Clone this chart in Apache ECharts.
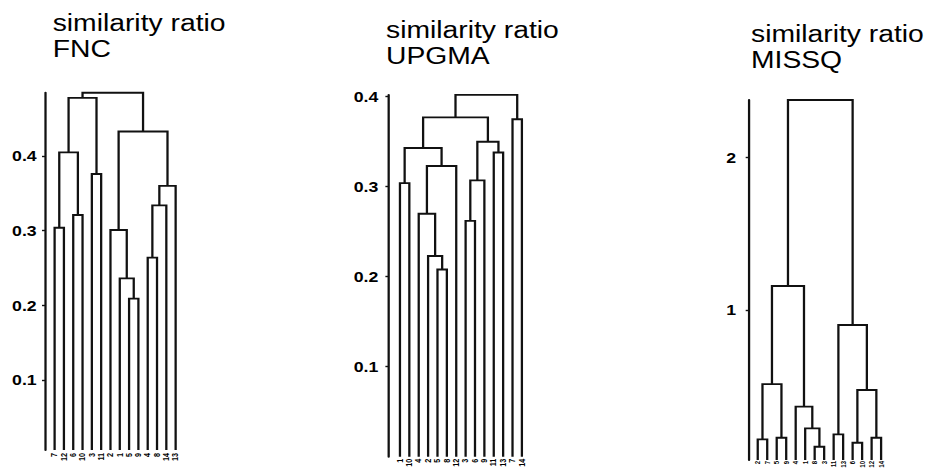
<!DOCTYPE html>
<html>
<head>
<meta charset="utf-8">
<script src="https://cdn.jsdelivr.net/npm/echarts@6/dist/echarts.min.js"></script>
<style>
  html, body { margin: 0; padding: 0; background: #fff; overflow: hidden; }
  #chart { width: 757px; height: 468px; transform: scaleX(1.23); transform-origin: 0 0; }
</style>
</head>
<body>
<div id="chart"></div>
<script>
// Horizontal stretch of the figure (the whole drawing is widened by this factor)
const S = 1.23;

// Leaf labels, left to right, for each dendrogram
const fncLabels   = ['7', '12', '6', '10', '3', '11', '2', '1', '5', '9', '4', '8', '14', '13'];
const upgmaLabels = ['1', '10', '4', '2', '5', '8', '12', '3', '6', '9', '11', '13', '7', '14'];
const missqLabels = ['2', '7', '5', '9', '4', '1', '8', '3', '11', '13', '6', '10', '12', '14'];

// Merges: [left, right, height]; 0..13 are leaves, 14 + k is the k-th merge
const fncMerges = [
  [0, 1, 0.304], [2, 3, 0.321], [14, 15, 0.405], [4, 5, 0.376], [16, 17, 0.478],
  [8, 9, 0.209], [7, 19, 0.236], [6, 20, 0.301], [10, 11, 0.264], [22, 12, 0.334],
  [23, 13, 0.360], [21, 24, 0.433], [18, 25, 0.485]
];
const upgmaMerges = [
  [0, 1, 0.304], [4, 5, 0.208], [3, 15, 0.223], [2, 16, 0.270], [17, 6, 0.323],
  [14, 18, 0.343], [7, 8, 0.262], [20, 9, 0.307], [10, 11, 0.338], [21, 22, 0.350],
  [19, 23, 0.377], [12, 13, 0.375], [24, 25, 0.402]
];
const missqMerges = [
  [0, 1, 0.153], [2, 3, 0.164], [14, 15, 0.515], [6, 7, 0.105], [5, 17, 0.225],
  [4, 18, 0.367], [16, 19, 1.157], [8, 9, 0.186], [10, 11, 0.131], [12, 13, 0.164],
  [22, 23, 0.476], [21, 24, 0.902], [20, 25, 2.375]
];

// Y tick values
const fncTicks   = [0.1, 0.2, 0.3, 0.4];
const upgmaTicks = [0.1, 0.2, 0.3, 0.4];
const missqTicks = [1, 2];

const panels = [
  { name: 'FNC',   labels: fncLabels,   merges: fncMerges,   ticks: fncTicks,
    yMin: 0.006, yMax: 0.485, xMin: 0,     left: 45.3,  top: 92.7, height: 357.3, step: 9.31,
    labelMargin: 7,    leafMargin: 3, leafFont: 7.2, titleX: 52.7, titleY: 9.5 },
  { name: 'UPGMA', labels: upgmaLabels, merges: upgmaMerges, ticks: upgmaTicks,
    yMin: 0,     yMax: 0.402, xMin: -0.2,  left: 388.7, top: 94.9, height: 361.8, step: 9.38,
    labelMargin: 8.5,  leafMargin: 2, leafFont: 7.2, titleX: 386,  titleY: 17 },
  { name: 'MISSQ', labels: missqLabels, merges: missqMerges, ticks: missqTicks,
    yMin: 0.018, yMax: 2.375, xMin: 0.08,  left: 749,   top: 100,  height: 360,   step: 9.49,
    labelMargin: 10.5, leafMargin: 1, leafFont: 6,   titleX: 751,  titleY: 20.5 }
];

// Turn a merge list into U-shaped links: [xLeft, hLeft, xRight, hRight, hJoin]
function buildLinks(labels, merges, base) {
  const n = labels.length;
  const pos = [], ht = [];
  for (let i = 0; i < n; i++) { pos[i] = i + 1; ht[i] = base; }
  return merges.map(([a, b, h], k) => {
    pos[n + k] = (pos[a] + pos[b]) / 2;
    ht[n + k] = h;
    return [pos[a], ht[a], pos[b], ht[b], h];
  });
}

const INK = '#111';
const FONT = '"Liberation Sans", Arial, sans-serif';
const XMAX = 14.5;
const LINE_W = 1.85;

const option = {
  backgroundColor: '#fff',
  animation: false,
  title: panels.map(p => ({
    text: 'similarity ratio\n' + p.name,
    left: p.titleX / S,
    top: p.titleY,
    padding: 0,
    textStyle: { fontSize: 23, fontWeight: 'normal', fontFamily: FONT, color: '#000', lineHeight: 26 }
  })),
  grid: panels.map(p => ({
    left: p.left / S,
    top: p.top,
    width: (XMAX - p.xMin) * p.step / S,
    height: p.height,
    containLabel: false,
    outerBoundsMode: 'none'
  })),
  xAxis: panels.map((p, i) => ({
    type: 'value',
    gridIndex: i,
    min: p.xMin,
    max: XMAX,
    axisLine: { show: false, onZero: false },
    axisTick: { show: false },
    splitLine: { show: false },
    axisLabel: {
      customValues: p.labels.map((_, j) => j + 1),
      formatter: v => p.labels[Math.round(v) - 1] || '',
      showMinLabel: true,
      showMaxLabel: true,
      hideOverlap: false,
      rotate: 90,
      margin: p.leafMargin,
      fontSize: p.leafFont,
      lineHeight: 5.5,
      fontWeight: 'bold',
      fontFamily: FONT,
      color: '#000'
    }
  })),
  yAxis: panels.map((p, i) => ({
    type: 'value',
    gridIndex: i,
    min: p.yMin,
    max: p.yMax,
    axisLine: { show: true, onZero: false, lineStyle: { color: INK, width: LINE_W } },
    axisTick: { show: true, customValues: p.ticks, length: 2.7, lineStyle: { color: INK, width: 1.4 } },
    splitLine: { show: false },
    axisLabel: {
      customValues: p.ticks,
      margin: p.labelMargin,
      fontSize: 14.4,
      fontWeight: 'bold',
      fontFamily: FONT,
      color: '#000'
    }
  })),
  series: panels.map((p, i) => ({
    type: 'custom',
    xAxisIndex: i,
    yAxisIndex: i,
    coordinateSystem: 'cartesian2d',
    encode: { x: [0, 2], y: [1, 3, 4] },
    data: buildLinks(p.labels, p.merges, p.yMin),
    renderItem: (params, api) => {
      const pts = [
        api.coord([api.value(0), api.value(1)]),
        api.coord([api.value(0), api.value(4)]),
        api.coord([api.value(2), api.value(4)]),
        api.coord([api.value(2), api.value(3)])
      ];
      return {
        type: 'polyline',
        shape: { points: pts },
        style: { stroke: INK, lineWidth: LINE_W, fill: null, lineJoin: 'miter' }
      };
    }
  }))
};

const chart = echarts.init(document.getElementById('chart'), null, { renderer: 'svg' });
chart.setOption(option);
</script>
</body>
</html>
